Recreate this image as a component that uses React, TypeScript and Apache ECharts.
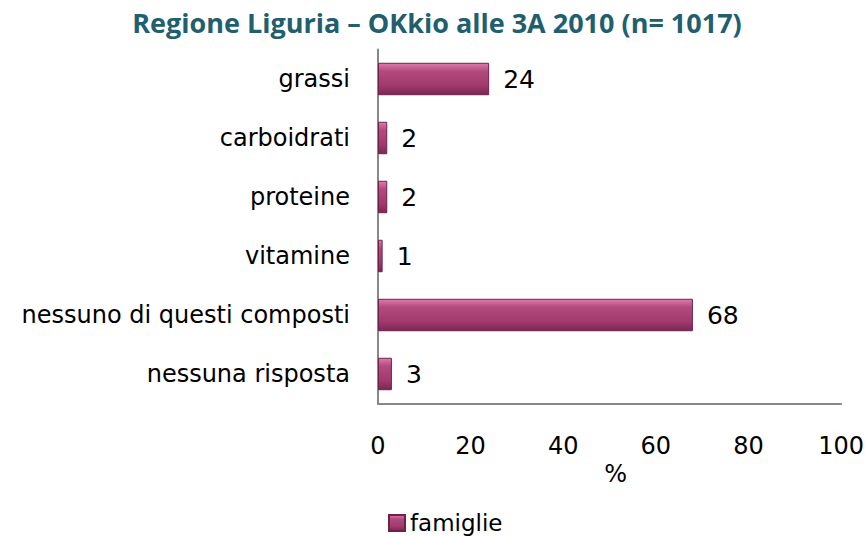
import React, { useEffect, useRef } from "react";
import * as echarts from "echarts";

const categories = ["grassi", "carboidrati", "proteine", "vitamine", "nessuno di questi composti", "nessuna risposta"];
const values = [24, 2, 2, 1, 68, 3];
const seriesName = "famiglie";
const title = "Regione Liguria \u2013 OKkio alle 3A 2010 (n= 1017)";

export default function App() {
  const ref = useRef<HTMLDivElement>(null);
  useEffect(() => {
    const chart = echarts.init(ref.current!, null, { renderer: "svg" });
    const barColor = new echarts.graphic.LinearGradient(0, 0, 0, 1, [
      { offset: 0, color: "#E07AAB" },
      { offset: 0.25, color: "#B24A7E" },
      { offset: 0.7, color: "#A23A6E" },
      { offset: 1, color: "#7A2852" },
    ]);
    chart.setOption({
      animation: false,
      backgroundColor: "#ffffff",
      title: {
        text: title,
        left: 432,
        textAlign: "center",
        top: 4,
        textStyle: { fontFamily: "Open Sans", fontWeight: "bold", fontSize: 27, color: "#215E6E" },
      },
      legend: {
        data: [seriesName],
        left: 383,
        top: 506,
        itemWidth: 16,
        itemHeight: 16,
        itemGap: 6,
        icon: "rect",
        textStyle: { fontFamily: "DejaVu Sans", fontSize: 23, color: "#000", lineHeight: 24 },
      },
      grid: { left: 378, right: 24, top: 49.5, bottom: 132.5, containLabel: false },
      xAxis: {
        type: "value",
        min: 0,
        max: 100,
        interval: 20,
        name: "%",
        nameLocation: "middle",
        nameGap: 58,
        nameTextStyle: { fontFamily: "DejaVu Sans", fontSize: 24, color: "#000", padding: [0, 0, 0, 12] },
        splitLine: { show: false },
        axisTick: { show: false },
        axisLine: { show: true, lineStyle: { color: "#888", width: 2 } },
        axisLabel: { fontFamily: "DejaVu Sans", fontSize: 24, color: "#000", margin: 30 },
      },
      yAxis: {
        type: "category",
        data: categories,
        inverse: true,
        axisTick: { show: false },
        axisLine: { show: true, lineStyle: { color: "#888", width: 2 } },
        axisLabel: { fontFamily: "DejaVu Sans", fontSize: 24, color: "#000", margin: 28 },
      },
      series: [
        {
          name: seriesName,
          type: "bar",
          data: values,
          barWidth: "55%",
          itemStyle: { color: barColor, borderColor: "#6E2249", borderWidth: 1 },
          label: {
            show: true,
            position: "right",
            distance: 14,
            fontFamily: "DejaVu Sans",
            fontSize: 25,
            color: "#000",
          },
        },
      ],
    });
    return () => chart.dispose();
  }, []);
  return <div ref={ref} style={{ width: 867, height: 536, position: "absolute", left: 0, top: 0 }} />;
}
